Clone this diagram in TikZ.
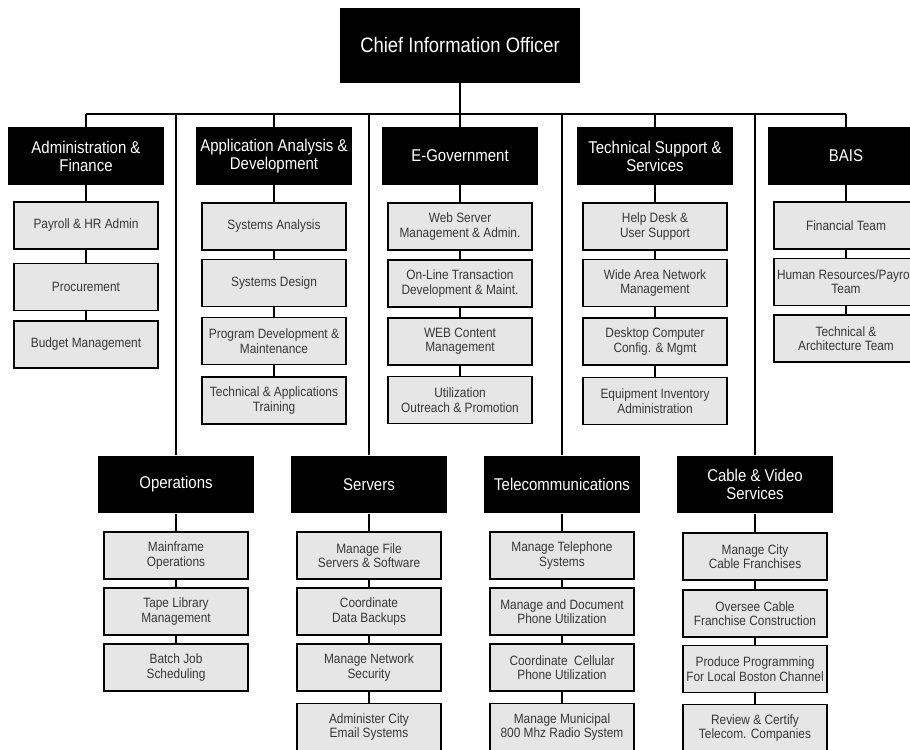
\documentclass[tikz,border=0pt]{standalone}
\usepackage{fontspec}
\setmainfont[FakeStretch=0.88]{Liberation Sans}
\usepackage{xcolor}
\usepackage{tikz}
\definecolor{boxgray}{RGB}{230,230,230}
\definecolor{textgray}{RGB}{55,55,55}
\newcommand{\chieffont}{\fontsize{14.9}{16}\selectfont}
\newcommand{\unitfont}{\fontsize{12.1}{12.8}\selectfont}
\newcommand{\taskfont}{\fontsize{9.6}{10.2}\selectfont}

\begin{document}
\begin{tikzpicture}[
  x=0.025cm, y=-0.025cm,
  chief/.style={fill=black, text=white, font=\chieffont, inner sep=0pt,
    minimum width=6cm, minimum height=1.875cm},
  unit/.style={fill=black, text=white, align=center, font=\unitfont,
    inner sep=1pt, minimum width=3.9cm, minimum height=1.44cm},
  task/.style={draw=black, line width=1.4pt, fill=boxgray, text=textgray,
    align=center, font=\taskfont, inner sep=1pt,
    minimum width=3.6cm, minimum height=1.175cm},
  link/.style={line width=1.4pt}
]
  \useasboundingbox (0,0) rectangle (910,750);
  \clip (0,0) rectangle (910,750);

  \node[chief] (cio) at (460,45.5) {Chief Information Officer};
  \coordinate (busL) at (86,114);
  \coordinate (busR) at (846,114);

  % top row of divisions
  \node[unit] (adm) at (86,156) {Administration \&\\ Finance};
  \node[unit] (app) at (274,156) {Application Analysis \&\\ Development};
  \node[unit] (egov) at (460,156) {E-Government};
  \node[unit] (tech) at (655,156) {Technical Support \&\\ Services};
  \node[unit] (bais) at (846,156) {BAIS};

  \node[task] (adm1) at (86,225.5) {Payroll \& HR Admin};
  \node[task] (adm2) at (86,287) {Procurement};
  \node[task] (adm3) at (86,344.5) {Budget Management};

  \node[task] (app1) at (274,226.5) {Systems Analysis};
  \node[task] (app2) at (274,283) {Systems Design};
  \node[task] (app3) at (274,341) {Program Development \&\\ Maintenance};
  \node[task] (app4) at (274,400.5) {Technical \& Applications\\ Training};

  \node[task] (egov1) at (460,226.5) {Web Server\\ Management \& Admin.};
  \node[task] (egov2) at (460,283.5) {On-Line Transaction\\ Development \& Maint.};
  \node[task] (egov3) at (460,341.5) {WEB Content\\ Management};
  \node[task] (egov4) at (460,400) {Utilization\\ Outreach \& Promotion};

  \node[task] (tech1) at (655,226.5) {Help Desk \&\\ User Support};
  \node[task] (tech2) at (655,283) {Wide Area Network\\ Management};
  \node[task] (tech3) at (655,341.5) {Desktop Computer\\ Config. \& Mgmt};
  \node[task] (tech4) at (655,401) {Equipment Inventory\\ Administration};

  \node[task] (bais1) at (846,225.5) {Financial Team};
  \node[task] (bais2) at (846,282) {Human Resources/Payroll\\ Team};
  \node[task] (bais3) at (846,338.5) {Technical \&\\ Architecture Team};

  % bottom row of divisions
  \node[unit] (ops) at (176,484.5) {Operations};
  \node[unit] (srv) at (369,484.5) {Servers};
  \node[unit] (tel) at (562,484.5) {Telecommunications};
  \node[unit] (cab) at (755,484.5) {Cable \& Video\\ Services};

  \node[task] (ops1) at (176,555.5) {Mainframe\\ Operations};
  \node[task] (ops2) at (176,611.5) {Tape Library\\ Management};
  \node[task] (ops3) at (176,667.5) {Batch Job\\ Scheduling};

  \node[task] (srv1) at (369,555.5) {Manage File\\ Servers \& Software};
  \node[task] (srv2) at (369,611.5) {Coordinate\\ Data Backups};
  \node[task] (srv3) at (369,667.5) {Manage Network\\ Security};
  \node[task] (srv4) at (369,727) {Administer City\\ Email Systems};

  \node[task] (tel1) at (562,555.5) {Manage Telephone\\ Systems};
  \node[task] (tel2) at (562,611.5) {Manage and Document\\ Phone Utilization};
  \node[task] (tel3) at (562,667.5) {Coordinate\ \ Cellular\\ Phone Utilization};
  \node[task] (tel4) at (562,727) {Manage Municipal\\ 800 Mhz Radio System};

  \node[task] (cab1) at (755,556.5) {Manage City\\ Cable Franchises};
  \node[task] (cab2) at (755,613.5) {Oversee Cable\\ Franchise Construction};
  \node[task] (cab3) at (755,669) {Produce Programming\\ For Local Boston Channel};
  \node[task] (cab4) at (755,728) {Review \& Certify\\ Telecom. Companies};

  % connectors
  \draw[link] (busL) -- (busR);
  \draw[link] (cio) -- (cio |- busL);
  \draw[link] (adm) -- (adm |- busL);
  \draw[link] (app) -- (app |- busL);
  \draw[link] (egov) -- (egov |- busL);
  \draw[link] (tech) -- (tech |- busL);
  \draw[link] (bais) -- (bais |- busL);
  \draw[link] (ops) -- (ops |- busL);
  \draw[link] (srv) -- (srv |- busL);
  \draw[link] (tel) -- (tel |- busL);
  \draw[link] (cab) -- (cab |- busL);

  \draw[link] (adm) -- (adm1) (adm1) -- (adm2) (adm2) -- (adm3);
  \draw[link] (app) -- (app1) (app1) -- (app2) (app2) -- (app3) (app3) -- (app4);
  \draw[link] (egov) -- (egov1) (egov1) -- (egov2) (egov2) -- (egov3) (egov3) -- (egov4);
  \draw[link] (tech) -- (tech1) (tech1) -- (tech2) (tech2) -- (tech3) (tech3) -- (tech4);
  \draw[link] (bais) -- (bais1) (bais1) -- (bais2) (bais2) -- (bais3);
  \draw[link] (ops) -- (ops1) (ops1) -- (ops2) (ops2) -- (ops3);
  \draw[link] (srv) -- (srv1) (srv1) -- (srv2) (srv2) -- (srv3) (srv3) -- (srv4);
  \draw[link] (tel) -- (tel1) (tel1) -- (tel2) (tel2) -- (tel3) (tel3) -- (tel4);
  \draw[link] (cab) -- (cab1) (cab1) -- (cab2) (cab2) -- (cab3) (cab3) -- (cab4);
\end{tikzpicture}
\end{document}
